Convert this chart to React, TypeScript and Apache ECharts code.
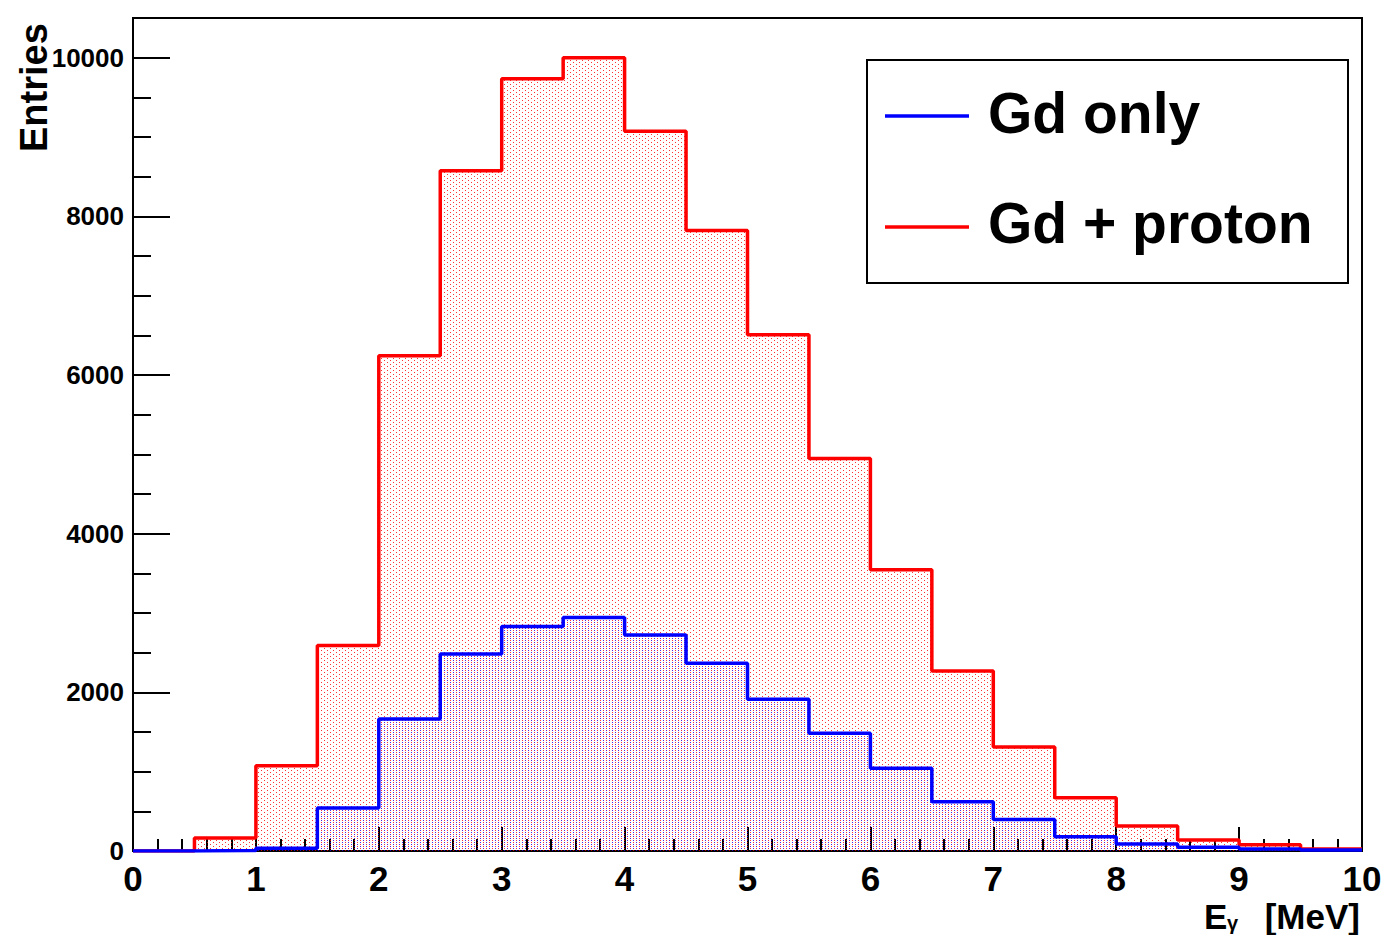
import React, { useEffect, useRef } from "react";
import * as echarts from "echarts";

// Histogram bin edges (E_gamma in MeV), 20 bins of 0.5 MeV
const binEdges = [0, 0.5, 1, 1.5, 2, 2.5, 3, 3.5, 4, 4.5, 5, 5.5, 6, 6.5, 7, 7.5, 8, 8.5, 9, 9.5, 10];

// Entries per bin
const gdProton = [0, 164, 1076, 2589, 6242, 8575, 9735, 10000, 9071, 7822, 6507, 4947, 3544, 2270, 1311, 672, 315, 139, 80, 25];
const gdOnly = [0, 5, 35, 542, 1665, 2484, 2829, 2942, 2724, 2367, 1913, 1484, 1043, 622, 396, 180, 88, 47, 25, 12];

const legendNames = ["Gd only", "Gd + proton"];
const yTickLabels = [0, 2000, 4000, 6000, 8000, 10000];

const FONT = "'Liberation Sans', Arial, Helvetica, sans-serif";

// Turn bin contents into step-line points (last edge repeats last value)
function toSteps(values: number[]): number[][] {
  const pts = values.map((v, i) => [binEdges[i], v]);
  pts.push([binEdges[binEdges.length - 1], values[values.length - 1]]);
  return pts;
}

function dotPattern(color: string, dots: number[][], w: number, h: number) {
  const c = document.createElement("canvas");
  c.width = w;
  c.height = h;
  const ctx = c.getContext("2d")!;
  ctx.fillStyle = color;
  dots.forEach(([x, y]) => ctx.fillRect(x, y, 1, 1));
  return c;
}

export default function App() {
  const ref = useRef<HTMLDivElement>(null);

  useEffect(() => {
    if (!ref.current) return;
    const chart = echarts.init(ref.current, undefined, { renderer: "svg" });

    const redDots = dotPattern("rgba(255,0,0,0.8)", [[0, 0], [3, 2]], 6, 4);
    const blueDots = dotPattern("rgba(40,0,230,0.85)", [[3, 0], [0, 2]], 6, 4);

    const tickLabelStyle = { color: "#000", fontFamily: FONT, fontWeight: "bold" as const };

    chart.setOption({
      animation: false,
      backgroundColor: "#fff",
      grid: {
        left: 133,
        right: 24,
        top: 18,
        bottom: 84,
        show: true,
        borderColor: "#000",
        borderWidth: 2,
        backgroundColor: "transparent",
      },
      xAxis: {
        type: "value",
        min: 0,
        max: 10,
        interval: 1,
        axisLine: { show: true, onZero: false, lineStyle: { color: "#000", width: 2 } },
        axisTick: { show: true, inside: true, length: 24, lineStyle: { color: "#000", width: 2 } },
        minorTick: { show: true, splitNumber: 5, length: 12, lineStyle: { color: "#000", width: 2 } },
        splitLine: { show: false },
        axisLabel: { ...tickLabelStyle, fontSize: 35, margin: 10 },
      },
      yAxis: [
        {
          type: "value",
          min: 0,
          max: 10500,
          interval: 500,
          axisLine: { show: true, lineStyle: { color: "#000", width: 2 } },
          axisTick: { show: true, inside: true, length: 18, lineStyle: { color: "#000", width: 2 } },
          splitLine: { show: false },
          axisLabel: {
            ...tickLabelStyle,
            fontSize: 26,
            margin: 9,
            formatter: (v: number) => (yTickLabels.includes(v) ? String(v) : ""),
          },
        },
        {
          type: "value",
          position: "left",
          min: 0,
          max: 10500,
          interval: 2000,
          axisLine: { show: false },
          axisTick: { show: true, inside: true, length: 37, lineStyle: { color: "#000", width: 2 } },
          splitLine: { show: false },
          axisLabel: { show: false },
        },
      ],
      series: [
        {
          name: legendNames[1],
          type: "line",
          step: "end",
          data: toSteps(gdProton),
          showSymbol: false,
          lineStyle: { color: "#ff0000", width: 3.5 },
          areaStyle: {
            color: { image: redDots, repeat: "repeat", imageWidth: 6, imageHeight: 4 },
            opacity: 1,
          },
          z: 2,
        },
        {
          name: legendNames[0],
          type: "line",
          step: "end",
          data: toSteps(gdOnly),
          showSymbol: false,
          lineStyle: { color: "#0000ff", width: 3.5 },
          areaStyle: {
            color: { image: blueDots, repeat: "repeat", imageWidth: 6, imageHeight: 4 },
            opacity: 1,
          },
          z: 3,
        },
      ],
      graphic: [
        // y-axis title
        {
          type: "text",
          x: 34,
          y: 152,
          rotation: Math.PI / 2,
          z: 50,
          style: {
            text: "Entries",
            fontFamily: FONT,
            fontWeight: "bold",
            fontSize: 38,
            fill: "#000",
            textAlign: "left",
            textVerticalAlign: "middle",
          },
        },
        // x-axis title
        {
          type: "text",
          x: 1204,
          y: 916,
          z: 50,
          style: {
            text: "E",
            fontFamily: FONT,
            fontWeight: "bold",
            fontSize: 35,
            fill: "#000",
            textAlign: "left",
            textVerticalAlign: "middle",
          },
        },
        {
          type: "text",
          x: 1227,
          y: 923,
          z: 50,
          style: {
            text: "γ",
            fontFamily: FONT,
            fontWeight: "bold",
            fontSize: 20,
            fill: "#000",
            textAlign: "left",
            textVerticalAlign: "middle",
          },
        },
        {
          type: "text",
          x: 1360,
          y: 916,
          z: 50,
          style: {
            text: "[MeV]",
            fontFamily: FONT,
            fontWeight: "bold",
            fontSize: 35,
            fill: "#000",
            textAlign: "right",
            textVerticalAlign: "middle",
          },
        },
        // legend
        {
          type: "group",
          z: 100,
          children: [
            {
              type: "rect",
              shape: { x: 867, y: 60, width: 481, height: 223 },
              style: { fill: "#fff", stroke: "#000", lineWidth: 2 },
            },
            {
              type: "line",
              shape: { x1: 885, y1: 116, x2: 969, y2: 116 },
              style: { stroke: "#0000ff", lineWidth: 3.5 },
            },
            {
              type: "text",
              x: 988,
              y: 113,
              style: {
                text: legendNames[0],
                fontFamily: FONT,
                fontWeight: "bold",
                fontSize: 57,
                fill: "#000",
                textAlign: "left",
                textVerticalAlign: "middle",
              },
            },
            {
              type: "line",
              shape: { x1: 885, y1: 227, x2: 969, y2: 227 },
              style: { stroke: "#ff0000", lineWidth: 3.5 },
            },
            {
              type: "text",
              x: 988,
              y: 223,
              style: {
                text: legendNames[1],
                fontFamily: FONT,
                fontWeight: "bold",
                fontSize: 57,
                fill: "#000",
                textAlign: "left",
                textVerticalAlign: "middle",
              },
            },
          ],
        },
      ],
    });

    return () => chart.dispose();
  }, []);

  return (
    <div
      ref={ref}
      style={{ position: "fixed", left: 0, top: 0, width: 1386, height: 935, background: "#fff" }}
    />
  );
}
